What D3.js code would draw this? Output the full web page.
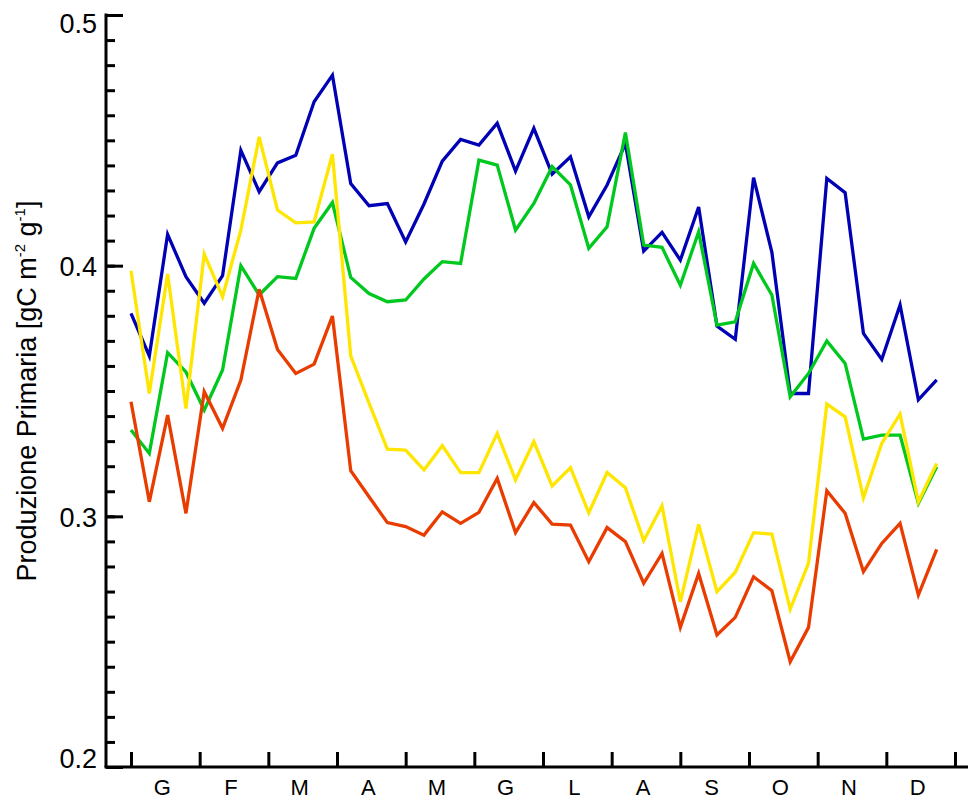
<!DOCTYPE html>
<html>
<head>
<meta charset="utf-8">
<script src="https://cdn.jsdelivr.net/npm/d3@7"></script>
<style>
  html, body { margin: 0; padding: 0; background: #fff; }
  svg { display: block; font-family: "Liberation Sans", Arial, sans-serif; }
</style>
</head>
<body>
<script>
// Month initials (Italian) and the 8-day composite steps (day 0, 8, ..., 352)
const months = ["G", "F", "M", "A", "M", "G", "L", "A", "S", "O", "N", "D"];
const step = 8;

// Primary production series, one value per 8-day period
const blueSeries = [0.381,0.364,0.4125,0.3956,0.385,0.396,0.446,0.4295,0.441,0.444,0.4654,0.476,0.4328,0.4239,0.4248,0.4095,0.4246,0.4417,0.4504,0.4481,0.4568,0.4377,0.4548,0.4365,0.4434,0.4195,0.4322,0.4487,0.4058,0.4133,0.4022,0.4234,0.3759,0.3706,0.4351,0.4053,0.349,0.349,0.4348,0.4291,0.373,0.3626,0.3843,0.3465,0.3544];
const greenSeries = [0.3344,0.3251,0.3653,0.3576,0.3424,0.3584,0.4,0.3883,0.3956,0.3949,0.4149,0.4252,0.3953,0.3889,0.3856,0.3863,0.3947,0.4016,0.4009,0.4421,0.4401,0.4142,0.4248,0.4395,0.4322,0.4069,0.4155,0.4531,0.4082,0.4073,0.3922,0.4135,0.3763,0.3776,0.4009,0.3883,0.3477,0.357,0.37,0.361,0.3308,0.3324,0.3324,0.3052,0.3198];
const yellowSeries = [0.398,0.349,0.3967,0.343,0.4046,0.3876,0.4142,0.4514,0.4222,0.4171,0.4175,0.4445,0.364,0.3452,0.3268,0.3264,0.3185,0.3282,0.3174,0.3174,0.3331,0.3145,0.3298,0.3121,0.3194,0.3014,0.3175,0.3114,0.2903,0.3042,0.2659,0.2968,0.2699,0.2777,0.2935,0.2929,0.2629,0.2813,0.3448,0.3397,0.3074,0.3291,0.3408,0.3058,0.3211];
const redSeries = [0.3457,0.3058,0.3404,0.3012,0.3497,0.3351,0.3544,0.3906,0.3666,0.357,0.3607,0.3799,0.3182,0.3078,0.2975,0.2959,0.2925,0.3018,0.2972,0.3016,0.3151,0.2935,0.3055,0.2969,0.2965,0.2819,0.2955,0.2899,0.2733,0.2852,0.2557,0.2772,0.2527,0.2597,0.2759,0.2703,0.242,0.2557,0.3102,0.3012,0.2779,0.2892,0.2972,0.2686,0.2868];

const yMajorTicks = [0.2, 0.3, 0.4, 0.5];
const yLabel = ["Produzione Primaria [gC m", "-2", " g", "-1", "]"];

const W = 968, H = 800;
const svg = d3.select("body").append("svg").attr("width", W).attr("height", H);

const axisX = 106, axisY = 767;
const x = d3.scaleLinear().domain([0, 360]).range([131, 955]);
const y = d3.scaleLinear().domain([0.2, 0.5]).range([767, 15]);

// Data lines, drawn back to front
const line = d3.line().x((d, i) => x(i * step)).y(d => y(d));
const series = [
  { values: blueSeries, color: "#0000b4" },
  { values: greenSeries, color: "#00c81e" },
  { values: yellowSeries, color: "#ffe600" },
  { values: redSeries, color: "#e83c00" }
];
svg.append("g").selectAll("path").data(series).join("path")
  .attr("d", d => line(d.values))
  .attr("fill", "none")
  .attr("stroke", d => d.color)
  .attr("stroke-width", 3.3)
  .attr("stroke-linejoin", "miter");

// Left axis: minor ticks every 0.01, major every 0.1, all pointing inward
const gMinor = svg.append("g").attr("transform", `translate(${axisX},0)`)
  .call(d3.axisLeft(y).tickValues(d3.range(21, 50).map(v => v / 100)).tickSize(-9).tickSizeOuter(0).tickFormat(""));
gMinor.select(".domain").remove();

const gY = svg.append("g").attr("transform", `translate(${axisX},0)`)
  .call(d3.axisLeft(y).tickValues(yMajorTicks).tickSize(-17).tickSizeOuter(0).tickPadding(9).tickFormat(d3.format(".1f")));
gY.selectAll(".tick text")
  .attr("font-size", 27)
  .attr("font-family", "Liberation Sans, Arial, sans-serif")
  .attr("fill", "#000")
  .attr("dy", d => d === 0.5 ? "0.64em" : d === 0.2 ? "0em" : "0.36em");
svg.selectAll(".tick line").attr("stroke", "#000").attr("stroke-width", 3);
gY.select(".domain").attr("stroke", "#000").attr("stroke-width", 3)
  .attr("d", `M0,${y(0.5) - 1.5}V${axisY}`);

// Bottom axis: month boundaries with upward ticks, month initials centered
const gX = svg.append("g").attr("transform", `translate(0,${axisY})`)
  .call(d3.axisBottom(x).tickValues(d3.range(0, 361, 30)).tickSize(-15).tickSizeOuter(0).tickFormat(""));
gX.select(".domain").attr("stroke", "#000").attr("stroke-width", 3)
  .attr("d", `M${axisX - 1.5},0H${W}`);
gX.selectAll(".tick line").attr("stroke", "#000").attr("stroke-width", 3);

svg.append("g").selectAll("text").data(months).join("text")
  .attr("x", (d, i) => x(i * 30 + 15) - 3)
  .attr("y", 795)
  .attr("text-anchor", "middle")
  .attr("font-size", 22)
  .attr("fill", "#000")
  .text(d => d);

// Y-axis title with superscript exponents
const title = svg.append("text")
  .attr("transform", "translate(36,391) rotate(-90)")
  .attr("text-anchor", "middle")
  .attr("font-size", 27)
  .attr("fill", "#000");
yLabel.forEach((t, i) => {
  const sup = i === 1 || i === 3;
  const ts = title.append("tspan").text(t);
  if (sup) ts.attr("font-size", 15).attr("dy", -11);
  else if (i > 0) ts.attr("dy", 11);
});
</script>
</body>
</html>
